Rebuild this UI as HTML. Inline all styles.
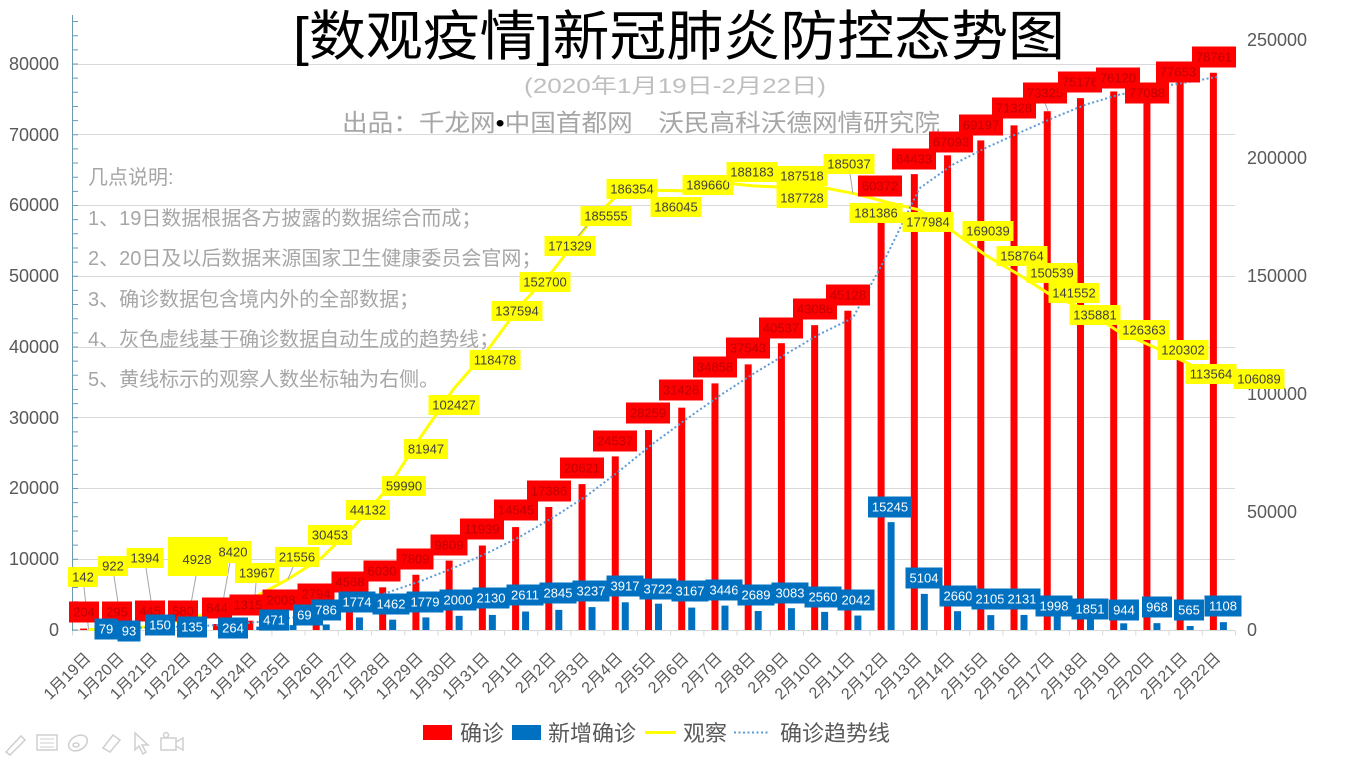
<!DOCTYPE html>
<html><head><meta charset="utf-8"><style>
html,body{margin:0;padding:0;background:#fff;}
svg{display:block;}
text{font-family:"Liberation Sans","Noto Sans CJK SC",sans-serif;}
</style></head><body>
<svg width="1355" height="757" viewBox="0 0 1355 757" xmlns="http://www.w3.org/2000/svg">
<rect width="1355" height="757" fill="#fff"/>
<g stroke="#D9D9D9" stroke-width="1">
<line x1="72" x2="1235" y1="559.5" y2="559.5"/><line x1="72" x2="1235" y1="488.5" y2="488.5"/><line x1="72" x2="1235" y1="417.5" y2="417.5"/><line x1="72" x2="1235" y1="347.5" y2="347.5"/><line x1="72" x2="1235" y1="276.5" y2="276.5"/><line x1="72" x2="1235" y1="205.5" y2="205.5"/><line x1="72" x2="1235" y1="134.5" y2="134.5"/><line x1="72" x2="1235" y1="64.5" y2="64.5"/>
<line x1="72" x2="1235" y1="630.5" y2="630.5"/>
<line x1="72" x2="1236" y1="633" y2="633" stroke-width="5" stroke-dasharray="1 32.2286"/>
</g>
<text x="293" y="55" font-size="54" fill="#000" textLength="772" lengthAdjust="spacingAndGlyphs">[数观疫情]新冠肺炎防控态势图</text>
<text x="524" y="93" font-size="21" fill="#BFBFBF" textLength="302" lengthAdjust="spacingAndGlyphs">(2020年1月19日-2月22日)</text>
<text x="342" y="131" font-size="24" fill="#A6A6A6" textLength="598" lengthAdjust="spacingAndGlyphs">出品：千龙网<tspan fill="#000">•</tspan>中国首都网　沃民高科沃德网情研究院</text>
<g font-size="20" fill="#A6A6A6">
<text x="88" y="184">几点说明:</text>
<text x="88" y="225">1、19日数据根据各方披露的数据综合而成；</text>
<text x="88" y="265">2、20日及以后数据来源国家卫生健康委员会官网；</text>
<text x="88" y="306">3、确诊数据包含境内外的全部数据；</text>
<text x="88" y="346">4、灰色虚线基于确诊数据自动生成的趋势线；</text>
<text x="88" y="386">5、黄线标示的观察人数坐标轴为右侧。</text>
</g>
<g fill="#FF0000">
<rect x="80.11" y="628.56" width="7" height="1.44"/><rect x="113.34" y="627.91" width="7" height="2.09"/><rect x="146.57" y="626.85" width="7" height="3.15"/><rect x="179.8" y="625.9" width="7" height="4.1"/><rect x="213.03" y="624.03" width="7" height="5.97"/><rect x="246.26" y="620.7" width="7" height="9.3"/><rect x="279.49" y="615.79" width="7" height="14.21"/><rect x="312.71" y="610.23" width="7" height="19.77"/><rect x="345.94" y="597.68" width="7" height="32.32"/><rect x="379.17" y="587.34" width="7" height="42.66"/><rect x="412.4" y="574.75" width="7" height="55.25"/><rect x="445.63" y="560.6" width="7" height="69.4"/><rect x="478.86" y="545.53" width="7" height="84.47"/><rect x="512.09" y="527.09" width="7" height="102.91"/><rect x="545.31" y="506.99" width="7" height="123.01"/><rect x="578.54" y="484.11" width="7" height="145.89"/><rect x="611.77" y="456.4" width="7" height="173.6"/><rect x="645" y="430.07" width="7" height="199.93"/><rect x="678.23" y="407.66" width="7" height="222.34"/><rect x="711.46" y="383.38" width="7" height="246.62"/><rect x="744.69" y="364.38" width="7" height="265.62"/><rect x="777.91" y="343.2" width="7" height="286.8"/><rect x="811.14" y="325.17" width="7" height="304.83"/><rect x="844.37" y="310.72" width="7" height="319.28"/><rect x="877.6" y="202.87" width="7" height="427.13"/><rect x="910.83" y="174.14" width="7" height="455.86"/><rect x="944.06" y="155.32" width="7" height="474.68"/><rect x="977.29" y="140.43" width="7" height="489.57"/><rect x="1010.51" y="125.35" width="7" height="504.65"/><rect x="1043.74" y="111.23" width="7" height="518.77"/><rect x="1076.97" y="98.13" width="7" height="531.87"/><rect x="1110.2" y="91.45" width="7" height="538.55"/><rect x="1143.43" y="84.6" width="7" height="545.4"/><rect x="1176.66" y="80.6" width="7" height="549.4"/><rect x="1209.89" y="72.77" width="7" height="557.23"/>
</g>
<g fill="#0070C0">
<rect x="90.11" y="629.44" width="7" height="0.56"/><rect x="123.34" y="629.34" width="7" height="0.66"/><rect x="156.57" y="628.94" width="7" height="1.06"/><rect x="189.8" y="629.05" width="7" height="0.95"/><rect x="223.03" y="628.13" width="7" height="1.87"/><rect x="256.26" y="626.67" width="7" height="3.33"/><rect x="289.49" y="625.1" width="7" height="4.9"/><rect x="322.71" y="624.44" width="7" height="5.56"/><rect x="355.94" y="617.45" width="7" height="12.55"/><rect x="389.17" y="619.66" width="7" height="10.34"/><rect x="422.4" y="617.41" width="7" height="12.59"/><rect x="455.63" y="615.85" width="7" height="14.15"/><rect x="488.86" y="614.93" width="7" height="15.07"/><rect x="522.09" y="611.53" width="7" height="18.47"/><rect x="555.31" y="609.87" width="7" height="20.13"/><rect x="588.54" y="607.1" width="7" height="22.9"/><rect x="621.77" y="602.29" width="7" height="27.71"/><rect x="655" y="603.67" width="7" height="26.33"/><rect x="688.23" y="607.59" width="7" height="22.41"/><rect x="721.46" y="605.62" width="7" height="24.38"/><rect x="754.69" y="610.98" width="7" height="19.02"/><rect x="787.91" y="608.19" width="7" height="21.81"/><rect x="821.14" y="611.89" width="7" height="18.11"/><rect x="854.37" y="615.55" width="7" height="14.45"/><rect x="887.6" y="522.14" width="7" height="107.86"/><rect x="920.83" y="593.89" width="7" height="36.11"/><rect x="954.06" y="611.18" width="7" height="18.82"/><rect x="987.29" y="615.11" width="7" height="14.89"/><rect x="1020.51" y="614.92" width="7" height="15.08"/><rect x="1053.74" y="615.86" width="7" height="14.14"/><rect x="1086.97" y="616.9" width="7" height="13.1"/><rect x="1120.2" y="623.32" width="7" height="6.68"/><rect x="1153.43" y="623.15" width="7" height="6.85"/><rect x="1186.66" y="626" width="7" height="4"/><rect x="1219.89" y="622.16" width="7" height="7.84"/>
</g>
<polyline fill="none" stroke="#FFFF00" stroke-width="3" stroke-linejoin="round" points="88.61,629.66 121.84,627.82 155.07,626.71 188.3,618.37 221.53,610.13 254.76,597.04 287.99,579.13 321.21,558.13 354.44,525.85 387.67,488.42 420.9,436.6 454.13,388.27 487.36,350.39 520.59,305.28 553.81,269.63 587.04,225.66 620.27,192.09 653.5,190.2 686.73,190.93 719.96,182.4 753.19,185.89 786.41,187.46 819.64,186.96 852.87,193.31 886.1,201.93 919.33,209.96 952.56,231.07 985.79,255.32 1019.01,274.73 1052.24,295.94 1085.47,309.32 1118.7,331.78 1151.93,346.09 1185.16,361.99 1218.39,379.63"/>
<polyline fill="none" stroke="#5B9BD5" stroke-width="2" stroke-dasharray="2 2.5" points="121.84,628.23 155.07,627.38 188.3,626.37 221.53,624.96 254.76,622.36 287.99,618.25 321.21,613.01 354.44,603.96 387.67,592.51 420.9,581.04 454.13,567.68 487.36,553.07 520.59,536.31 553.81,517.04 587.04,495.55 620.27,470.25 653.5,443.23 686.73,418.86 719.96,395.52 753.19,373.88 786.41,353.79 819.64,334.18 852.87,317.94 886.1,256.79 919.33,188.5 952.56,164.73 985.79,147.87 1019.01,132.89 1052.24,118.29 1085.47,104.68 1118.7,94.79 1151.93,88.03 1185.16,82.6 1218.39,76.69"/>
<g stroke="#6A9BB0" stroke-width="1">
<line x1="72.5" x2="72.5" y1="15" y2="631"/>
<line x1="75" x2="75" y1="630.5" y2="15" stroke-width="6" stroke-dasharray="1 13.15"/>
</g>
<g font-size="18" fill="#595959" text-anchor="end">
<text x="59" y="636">0</text><text x="59" y="565">10000</text><text x="59" y="494">20000</text><text x="59" y="424">30000</text><text x="59" y="353">40000</text><text x="59" y="282">50000</text><text x="59" y="211">60000</text><text x="59" y="141">70000</text><text x="59" y="70">80000</text>
</g>
<g font-size="18" fill="#595959">
<text x="1247" y="636">0</text><text x="1247" y="518">50000</text><text x="1247" y="400">100000</text><text x="1247" y="282">150000</text><text x="1247" y="164">200000</text><text x="1247" y="46">250000</text>
</g>
<g font-size="16" fill="#595959" text-anchor="end">
<text transform="translate(91.61,659) rotate(-45)">1月19日</text><text transform="translate(124.84,659) rotate(-45)">1月20日</text><text transform="translate(158.07,659) rotate(-45)">1月21日</text><text transform="translate(191.3,659) rotate(-45)">1月22日</text><text transform="translate(224.53,659) rotate(-45)">1月23日</text><text transform="translate(257.76,659) rotate(-45)">1月24日</text><text transform="translate(290.99,659) rotate(-45)">1月25日</text><text transform="translate(324.21,659) rotate(-45)">1月26日</text><text transform="translate(357.44,659) rotate(-45)">1月27日</text><text transform="translate(390.67,659) rotate(-45)">1月28日</text><text transform="translate(423.9,659) rotate(-45)">1月29日</text><text transform="translate(457.13,659) rotate(-45)">1月30日</text><text transform="translate(490.36,659) rotate(-45)">1月31日</text><text transform="translate(523.59,659) rotate(-45)">2月1日</text><text transform="translate(556.81,659) rotate(-45)">2月2日</text><text transform="translate(590.04,659) rotate(-45)">2月3日</text><text transform="translate(623.27,659) rotate(-45)">2月4日</text><text transform="translate(656.5,659) rotate(-45)">2月5日</text><text transform="translate(689.73,659) rotate(-45)">2月6日</text><text transform="translate(722.96,659) rotate(-45)">2月7日</text><text transform="translate(756.19,659) rotate(-45)">2月8日</text><text transform="translate(789.41,659) rotate(-45)">2月9日</text><text transform="translate(822.64,659) rotate(-45)">2月10日</text><text transform="translate(855.87,659) rotate(-45)">2月11日</text><text transform="translate(889.1,659) rotate(-45)">2月12日</text><text transform="translate(922.33,659) rotate(-45)">2月13日</text><text transform="translate(955.56,659) rotate(-45)">2月14日</text><text transform="translate(988.79,659) rotate(-45)">2月15日</text><text transform="translate(1022.01,659) rotate(-45)">2月16日</text><text transform="translate(1055.24,659) rotate(-45)">2月17日</text><text transform="translate(1088.47,659) rotate(-45)">2月18日</text><text transform="translate(1121.7,659) rotate(-45)">2月19日</text><text transform="translate(1154.93,659) rotate(-45)">2月20日</text><text transform="translate(1188.16,659) rotate(-45)">2月21日</text><text transform="translate(1221.39,659) rotate(-45)">2月22日</text>
</g>
<g stroke="#A6A6A6" stroke-width="1" fill="none">
<line x1="84" y1="587" x2="88.6" y2="629.7"/><line x1="114" y1="576" x2="121.8" y2="627.8"/><line x1="146" y1="568" x2="155" y2="626.7"/><line x1="196" y1="576" x2="188.3" y2="618.4"/><line x1="230" y1="562" x2="221.5" y2="610"/><line x1="256" y1="583" x2="254.8" y2="597"/><line x1="293" y1="567" x2="288" y2="579"/><line x1="578" y1="236" x2="587" y2="225.7"/><line x1="850" y1="174" x2="852.9" y2="193.3"/><line x1="1045" y1="103" x2="1048" y2="111"/>
</g>
<g font-size="13" text-anchor="middle">
<g>
<rect x="69" y="601.5" width="30" height="21" fill="#FF0000"/><text x="84" y="616.5" fill="#C00000">204</text>
<rect x="102" y="601.5" width="30" height="21" fill="#FF0000"/><text x="117" y="616.5" fill="#C00000">295</text>
<rect x="135" y="600.5" width="30" height="21" fill="#FF0000"/><text x="150" y="615.5" fill="#C00000">445</text>
<rect x="168" y="600.5" width="30" height="21" fill="#FF0000"/><text x="183" y="615.5" fill="#C00000">580</text>
<rect x="202" y="597.5" width="30" height="21" fill="#FF0000"/><text x="217" y="612.5" fill="#C00000">844</text>
<rect x="229.5" y="594.5" width="37" height="21" fill="#FF0000"/><text x="248" y="609.5" fill="#C00000">1315</text>
<rect x="262.5" y="589.5" width="37" height="21" fill="#FF0000"/><text x="281" y="604.5" fill="#C00000">2008</text>
<rect x="297.5" y="583.5" width="37" height="21" fill="#FF0000"/><text x="316" y="598.5" fill="#C00000">2794</text>
<rect x="331.5" y="571.5" width="37" height="21" fill="#FF0000"/><text x="350" y="586.5" fill="#C00000">4568</text>
<rect x="363.5" y="560.5" width="37" height="21" fill="#FF0000"/><text x="382" y="575.5" fill="#C00000">6030</text>
<rect x="396.5" y="548.5" width="37" height="21" fill="#FF0000"/><text x="415" y="563.5" fill="#C00000">7809</text>
<rect x="430.5" y="534.5" width="37" height="21" fill="#FF0000"/><text x="449" y="549.5" fill="#C00000">9809</text>
<rect x="460" y="518.5" width="44" height="21" fill="#FF0000"/><text x="482" y="533.5" fill="#C00000">11939</text>
<rect x="494" y="499.5" width="44" height="21" fill="#FF0000"/><text x="516" y="514.5" fill="#C00000">14545</text>
<rect x="527" y="480.5" width="44" height="21" fill="#FF0000"/><text x="549" y="495.5" fill="#C00000">17386</text>
<rect x="560" y="457.5" width="44" height="21" fill="#FF0000"/><text x="582" y="472.5" fill="#C00000">20621</text>
<rect x="593" y="430.5" width="44" height="21" fill="#FF0000"/><text x="615" y="445.5" fill="#C00000">24537</text>
<rect x="626" y="402.5" width="44" height="21" fill="#FF0000"/><text x="648" y="417.5" fill="#C00000">28259</text>
<rect x="659" y="379.5" width="44" height="21" fill="#FF0000"/><text x="681" y="394.5" fill="#C00000">31426</text>
<rect x="693" y="356.5" width="44" height="21" fill="#FF0000"/><text x="715" y="371.5" fill="#C00000">34858</text>
<rect x="726" y="337.5" width="44" height="21" fill="#FF0000"/><text x="748" y="352.5" fill="#C00000">37543</text>
<rect x="759" y="317.5" width="44" height="21" fill="#FF0000"/><text x="781" y="332.5" fill="#C00000">40537</text>
<rect x="793" y="298.5" width="44" height="21" fill="#FF0000"/><text x="815" y="313.5" fill="#C00000">43086</text>
<rect x="826" y="284.5" width="44" height="21" fill="#FF0000"/><text x="848" y="299.5" fill="#C00000">45128</text>
<rect x="858" y="175.5" width="44" height="21" fill="#FF0000"/><text x="880" y="190.5" fill="#C00000">60372</text>
<rect x="892" y="148.5" width="44" height="21" fill="#FF0000"/><text x="914" y="163.5" fill="#C00000">64433</text>
<rect x="929" y="131.5" width="44" height="21" fill="#FF0000"/><text x="951" y="146.5" fill="#C00000">67093</text>
<rect x="959" y="114.5" width="44" height="21" fill="#FF0000"/><text x="981" y="129.5" fill="#C00000">69197</text>
<rect x="992" y="97.5" width="44" height="21" fill="#FF0000"/><text x="1014" y="112.5" fill="#C00000">71328</text>
<rect x="1023" y="82.5" width="44" height="21" fill="#FF0000"/><text x="1045" y="97.5" fill="#C00000">73325</text>
<rect x="1058" y="71.5" width="44" height="21" fill="#FF0000"/><text x="1080" y="86.5" fill="#C00000">75176</text>
<rect x="1096" y="67.5" width="44" height="21" fill="#FF0000"/><text x="1118" y="82.5" fill="#C00000">76120</text>
<rect x="1125" y="82.5" width="44" height="21" fill="#FF0000"/><text x="1147" y="97.5" fill="#C00000">77088</text>
<rect x="1156" y="61.5" width="44" height="21" fill="#FF0000"/><text x="1178" y="76.5" fill="#C00000">77653</text>
<rect x="1192" y="46.5" width="44" height="21" fill="#FF0000"/><text x="1214" y="61.5" fill="#C00000">78761</text>
</g>
<g>
<rect x="94.5" y="618.5" width="23" height="21" fill="#0070C0"/><text x="106" y="633.5" fill="#fff">79</text>
<rect x="117.5" y="620.5" width="23" height="21" fill="#0070C0"/><text x="129" y="635.5" fill="#fff">93</text>
<rect x="145" y="614.5" width="30" height="21" fill="#0070C0"/><text x="160" y="629.5" fill="#fff">150</text>
<rect x="177" y="616.5" width="30" height="21" fill="#0070C0"/><text x="192" y="631.5" fill="#fff">135</text>
<rect x="218" y="617.5" width="30" height="21" fill="#0070C0"/><text x="233" y="632.5" fill="#fff">264</text>
<rect x="259" y="609.5" width="30" height="21" fill="#0070C0"/><text x="274" y="624.5" fill="#fff">471</text>
<rect x="293" y="604.5" width="30" height="21" fill="#0070C0"/><text x="308" y="619.5" fill="#fff">692</text>
<rect x="311" y="599.5" width="30" height="21" fill="#0070C0"/><text x="326" y="614.5" fill="#fff">786</text>
<rect x="338.5" y="591.5" width="37" height="21" fill="#0070C0"/><text x="357" y="606.5" fill="#fff">1774</text>
<rect x="372.5" y="593.5" width="37" height="21" fill="#0070C0"/><text x="391" y="608.5" fill="#fff">1462</text>
<rect x="406.5" y="591.5" width="37" height="21" fill="#0070C0"/><text x="425" y="606.5" fill="#fff">1779</text>
<rect x="439.5" y="589.5" width="37" height="21" fill="#0070C0"/><text x="458" y="604.5" fill="#fff">2000</text>
<rect x="472.5" y="587.5" width="37" height="21" fill="#0070C0"/><text x="491" y="602.5" fill="#fff">2130</text>
<rect x="506.5" y="584.5" width="37" height="21" fill="#0070C0"/><text x="525" y="599.5" fill="#fff">2611</text>
<rect x="539.5" y="582.5" width="37" height="21" fill="#0070C0"/><text x="558" y="597.5" fill="#fff">2845</text>
<rect x="572.5" y="580.5" width="37" height="21" fill="#0070C0"/><text x="591" y="595.5" fill="#fff">3237</text>
<rect x="606.5" y="575.5" width="37" height="21" fill="#0070C0"/><text x="625" y="590.5" fill="#fff">3917</text>
<rect x="639.5" y="578.5" width="37" height="21" fill="#0070C0"/><text x="658" y="593.5" fill="#fff">3722</text>
<rect x="671.5" y="580.5" width="37" height="21" fill="#0070C0"/><text x="690" y="595.5" fill="#fff">3167</text>
<rect x="705.5" y="579.5" width="37" height="21" fill="#0070C0"/><text x="724" y="594.5" fill="#fff">3446</text>
<rect x="737.5" y="584.5" width="37" height="21" fill="#0070C0"/><text x="756" y="599.5" fill="#fff">2689</text>
<rect x="771.5" y="582.5" width="37" height="21" fill="#0070C0"/><text x="790" y="597.5" fill="#fff">3083</text>
<rect x="804.5" y="586.5" width="37" height="21" fill="#0070C0"/><text x="823" y="601.5" fill="#fff">2560</text>
<rect x="837.5" y="589.5" width="37" height="21" fill="#0070C0"/><text x="856" y="604.5" fill="#fff">2042</text>
<rect x="868" y="496.5" width="44" height="21" fill="#0070C0"/><text x="890" y="511.5" fill="#fff">15245</text>
<rect x="905.5" y="567.5" width="37" height="21" fill="#0070C0"/><text x="924" y="582.5" fill="#fff">5104</text>
<rect x="939.5" y="585.5" width="37" height="21" fill="#0070C0"/><text x="958" y="600.5" fill="#fff">2660</text>
<rect x="971.5" y="588.5" width="37" height="21" fill="#0070C0"/><text x="990" y="603.5" fill="#fff">2105</text>
<rect x="1003.5" y="588.5" width="37" height="21" fill="#0070C0"/><text x="1022" y="603.5" fill="#fff">2131</text>
<rect x="1035.5" y="595.5" width="37" height="21" fill="#0070C0"/><text x="1054" y="610.5" fill="#fff">1998</text>
<rect x="1071.5" y="598.5" width="37" height="21" fill="#0070C0"/><text x="1090" y="613.5" fill="#fff">1851</text>
<rect x="1109" y="599.5" width="30" height="21" fill="#0070C0"/><text x="1124" y="614.5" fill="#fff">944</text>
<rect x="1142" y="596.5" width="30" height="21" fill="#0070C0"/><text x="1157" y="611.5" fill="#fff">968</text>
<rect x="1174" y="599.5" width="30" height="21" fill="#0070C0"/><text x="1189" y="614.5" fill="#fff">565</text>
<rect x="1204.5" y="595.5" width="37" height="21" fill="#0070C0"/><text x="1223" y="610.5" fill="#fff">1108</text>
</g>
<g>
<rect x="68" y="567" width="30" height="20" fill="#FFFF00"/><text x="83" y="581.5" fill="#404040">142</text>
<rect x="98" y="556" width="30" height="20" fill="#FFFF00"/><text x="113" y="570.5" fill="#404040">922</text>
<rect x="126.5" y="548" width="37" height="20" fill="#FFFF00"/><text x="145" y="562.5" fill="#404040">1394</text>
<rect x="168" y="537" width="60" height="39" fill="#FFFF00"/><text x="197" y="564" fill="#404040">4928</text>
<rect x="214.5" y="541" width="37" height="22" fill="#FFFF00"/><text x="233" y="556.5" fill="#404040">8420</text>
<rect x="235" y="563" width="44" height="20" fill="#FFFF00"/><text x="257" y="577.5" fill="#404040">13967</text>
<rect x="275" y="547" width="44" height="20" fill="#FFFF00"/><text x="297" y="561.5" fill="#404040">21556</text>
<rect x="308" y="525" width="44" height="20" fill="#FFFF00"/><text x="330" y="539.5" fill="#404040">30453</text>
<rect x="346" y="500" width="44" height="20" fill="#FFFF00"/><text x="368" y="514.5" fill="#404040">44132</text>
<rect x="382" y="476" width="44" height="20" fill="#FFFF00"/><text x="404" y="490.5" fill="#404040">59990</text>
<rect x="404" y="439" width="44" height="20" fill="#FFFF00"/><text x="426" y="453.5" fill="#404040">81947</text>
<rect x="428.5" y="395" width="51" height="20" fill="#FFFF00"/><text x="454" y="409.5" fill="#404040">102427</text>
<rect x="469.5" y="350" width="51" height="20" fill="#FFFF00"/><text x="495" y="364.5" fill="#404040">118478</text>
<rect x="491.5" y="301" width="51" height="20" fill="#FFFF00"/><text x="517" y="315.5" fill="#404040">137594</text>
<rect x="519.5" y="272" width="51" height="20" fill="#FFFF00"/><text x="545" y="286.5" fill="#404040">152700</text>
<rect x="544.5" y="236" width="51" height="20" fill="#FFFF00"/><text x="570" y="250.5" fill="#404040">171329</text>
<rect x="580.5" y="206" width="51" height="20" fill="#FFFF00"/><text x="606" y="220.5" fill="#404040">185555</text>
<rect x="606.5" y="179" width="51" height="20" fill="#FFFF00"/><text x="632" y="193.5" fill="#404040">186354</text>
<rect x="650.5" y="197" width="51" height="20" fill="#FFFF00"/><text x="676" y="211.5" fill="#404040">186045</text>
<rect x="682.5" y="175" width="51" height="20" fill="#FFFF00"/><text x="708" y="189.5" fill="#404040">189660</text>
<rect x="726.5" y="162" width="51" height="20" fill="#FFFF00"/><text x="752" y="176.5" fill="#404040">188183</text>
<rect x="776.5" y="166" width="51" height="20" fill="#FFFF00"/><text x="802" y="180.5" fill="#404040">187518</text>
<rect x="776.5" y="188" width="51" height="20" fill="#FFFF00"/><text x="802" y="202.5" fill="#404040">187728</text>
<rect x="823.5" y="154" width="51" height="20" fill="#FFFF00"/><text x="849" y="168.5" fill="#404040">185037</text>
<rect x="849.5" y="203" width="53" height="20" fill="#FFFF00"/><text x="876" y="217.5" fill="#404040">181386</text>
<rect x="902.5" y="212" width="51" height="20" fill="#FFFF00"/><text x="928" y="226.5" fill="#404040">177984</text>
<rect x="962.5" y="221" width="51" height="20" fill="#FFFF00"/><text x="988" y="235.5" fill="#404040">169039</text>
<rect x="996.5" y="246" width="51" height="20" fill="#FFFF00"/><text x="1022" y="260.5" fill="#404040">158764</text>
<rect x="1026.5" y="263" width="51" height="20" fill="#FFFF00"/><text x="1052" y="277.5" fill="#404040">150539</text>
<rect x="1048.5" y="283" width="51" height="20" fill="#FFFF00"/><text x="1074" y="297.5" fill="#404040">141552</text>
<rect x="1069.5" y="305" width="51" height="20" fill="#FFFF00"/><text x="1095" y="319.5" fill="#404040">135881</text>
<rect x="1118.5" y="320" width="51" height="20" fill="#FFFF00"/><text x="1144" y="334.5" fill="#404040">126363</text>
<rect x="1157.5" y="340" width="51" height="20" fill="#FFFF00"/><text x="1183" y="354.5" fill="#404040">120302</text>
<rect x="1185.5" y="364" width="51" height="20" fill="#FFFF00"/><text x="1211" y="378.5" fill="#404040">113564</text>
<rect x="1233.5" y="369" width="51" height="20" fill="#FFFF00"/><text x="1259" y="383.5" fill="#404040">106089</text>
</g>
</g>
<rect x="423" y="725" width="29" height="15" fill="#FF0000"/>
<rect x="512" y="725" width="29" height="15" fill="#0070C0"/>
<line x1="645" y1="732.5" x2="676" y2="732.5" stroke="#FFFF00" stroke-width="3"/>
<line x1="734" y1="732.5" x2="770" y2="732.5" stroke="#5B9BD5" stroke-width="2" stroke-dasharray="2 2.5"/>
<g font-size="22" fill="#595959">
<text x="460" y="741">确诊</text>
<text x="548" y="741">新增确诊</text>
<text x="683" y="741">观察</text>
<text x="780" y="741">确诊趋势线</text>
</g>
<g stroke="#CFCFCF" stroke-width="1.5" fill="none">
<path d="M6 752 L21 736 L25 740 L10 755 Z"/>
<rect x="37" y="735" width="20" height="15"/>
<path d="M40 739 h14 M40 743 h14 M40 747 h14" stroke-width="1"/>
<ellipse cx="78" cy="743" rx="10" ry="7" transform="rotate(-30 78 743)"/>
<ellipse cx="76" cy="745" rx="3" ry="2"/>
<path d="M103 748 L113 735 L120 740 L110 752 Z"/>
<path d="M135 733 L135 750 L139 746 L143 754 L146 752 L142 745 L148 745 Z"/>
<rect x="161" y="738" width="15" height="12"/>
<path d="M176 742 L183 738 L183 750 L176 746"/>
<circle cx="166" cy="735" r="2.5"/>
</g>
</svg>
</body></html>
